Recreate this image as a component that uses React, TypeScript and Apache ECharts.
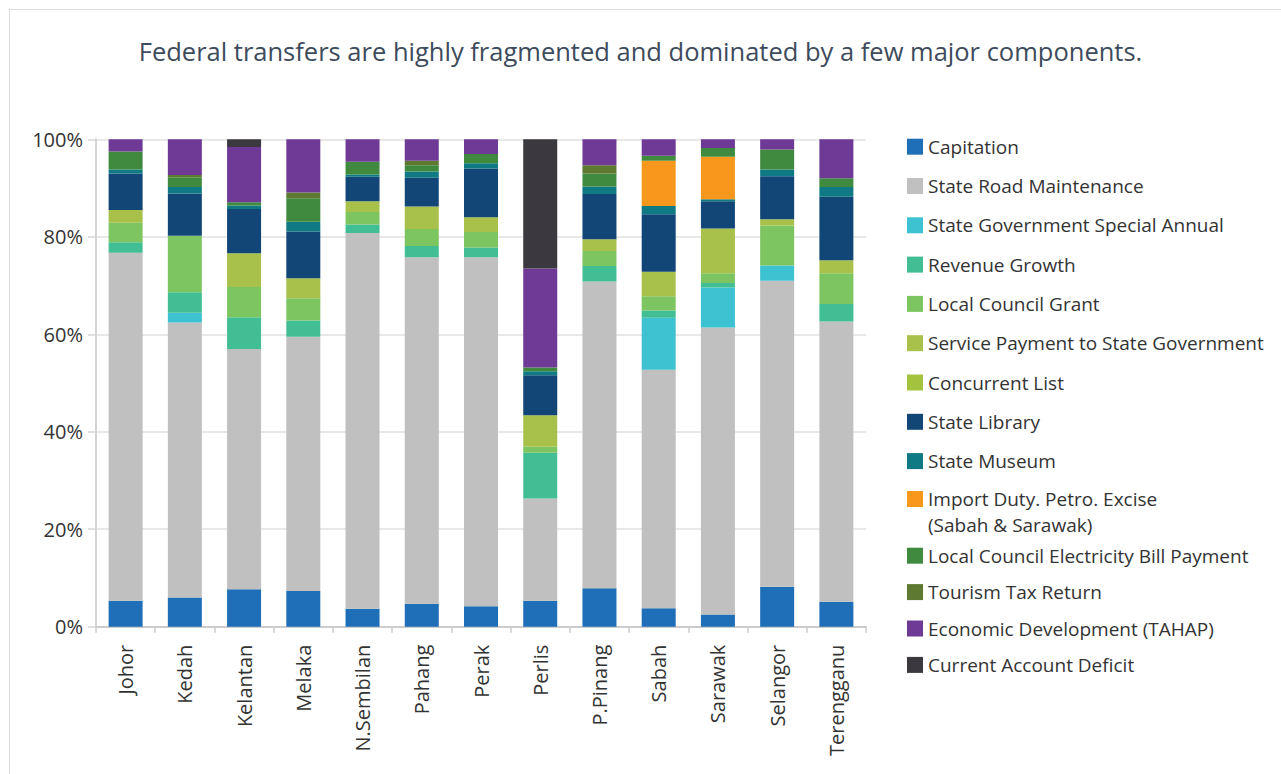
import React, { useEffect, useRef } from "react";
import * as echarts from "echarts";

// States shown along the category axis
const states = [
  "Johor", "Kedah", "Kelantan", "Melaka", "N.Sembilan", "Pahang", "Perak",
  "Perlis", "P.Pinang", "Sabah", "Sarawak", "Selangor", "Terengganu",
];

// Share of each transfer component in the state's total (%), one value per state
const capitation = [5.3, 6.0, 7.7, 7.3, 3.7, 4.7, 4.2, 5.3, 7.9, 3.8, 2.5, 8.2, 5.1];
const roadMaintenance = [71.4, 56.4, 49.3, 52.2, 77.1, 71.1, 71.6, 21.0, 62.9, 48.9, 58.9, 62.8, 57.5];
const specialAnnual = [0, 2.0, 0, 0, 0, 0, 0, 0, 0, 10.7, 8.2, 3.1, 0];
const revenueGrowth = [2.2, 4.2, 6.5, 3.3, 1.7, 2.3, 2.0, 9.4, 3.2, 1.5, 0.9, 0, 3.6];
const localCouncilGrant = [4.0, 11.6, 6.2, 4.6, 2.6, 3.5, 3.2, 1.2, 3.1, 2.9, 2.0, 8.2, 6.3];
const servicePayment = [2.6, 0, 6.9, 4.1, 2.2, 4.6, 3.0, 6.5, 2.4, 5.0, 9.2, 1.3, 2.7];
const concurrentList = [0, 0, 0, 0, 0, 0, 0, 0, 0, 0, 0, 0, 0];
const stateLibrary = [7.5, 8.7, 9.1, 9.6, 5.0, 5.9, 10.0, 8.2, 9.3, 11.8, 5.6, 8.8, 13.0];
const stateMuseum = [0.8, 1.3, 0.7, 2.0, 0.5, 1.3, 1.1, 0.8, 1.5, 1.7, 0.4, 1.4, 2.0];
const importDuty = [0, 0, 0, 0, 0, 0, 0, 0, 0, 9.3, 8.7, 0, 0];
const electricityBill = [3.7, 2.0, 0.7, 4.8, 2.6, 1.3, 1.9, 0.8, 2.7, 1.0, 1.8, 4.1, 1.8];
const tourismTax = [0, 0.5, 0, 1.2, 0, 0.9, 0, 0, 1.7, 0, 0, 0, 0];
const economicDevelopment = [2.5, 7.3, 11.3, 10.9, 4.6, 4.4, 3.0, 20.3, 5.3, 3.4, 1.8, 2.1, 8.0];
const currentAccountDeficit = [0, 0, 1.6, 0, 0, 0, 0, 26.5, 0, 0, 0, 0, 0];

const yTicks = [0, 20, 40, 60, 80, 100];

const IMPORT_DUTY = "Import Duty. Petro. Excise\n(Sabah & Sarawak)";

const components = [
  { name: "Capitation", color: "#1f6fb8", data: capitation },
  { name: "State Road Maintenance", color: "#c0c0c0", data: roadMaintenance },
  { name: "State Government Special Annual", color: "#3cc2d0", data: specialAnnual },
  { name: "Revenue Growth", color: "#41be93", data: revenueGrowth },
  { name: "Local Council Grant", color: "#7dc561", data: localCouncilGrant },
  { name: "Service Payment to State Government", color: "#a8c14a", data: servicePayment },
  { name: "Concurrent List", color: "#a3c33f", data: concurrentList },
  { name: "State Library", color: "#114676", data: stateLibrary },
  { name: "State Museum", color: "#0f7a83", data: stateMuseum },
  { name: IMPORT_DUTY, color: "#f7981d", data: importDuty },
  { name: "Local Council Electricity Bill Payment", color: "#3f8a3f", data: electricityBill },
  { name: "Tourism Tax Return", color: "#5d7a30", data: tourismTax },
  { name: "Economic Development (TAHAP)", color: "#6e3a96", data: economicDevelopment },
  { name: "Current Account Deficit", color: "#3b393f", data: currentAccountDeficit },
];

const FONT = "'Open Sans', 'Noto Sans', sans-serif";
const TEXT = "#333333";

// Two-line legend entry: swatch sits at the top of a taller icon box so it
// lines up with the first text line rather than the middle of the block.
const WRAP_LINE_HEIGHT = 26;
const WRAP_ITEM_HEIGHT = 16 + WRAP_LINE_HEIGHT;
const topSwatchIcon = `path://M0 0H16V16H0Z M0 ${WRAP_ITEM_HEIGHT}H16`;

export default function App() {
  const ref = useRef<HTMLDivElement | null>(null);

  useEffect(() => {
    if (!ref.current) return;
    const chart = echarts.init(ref.current, null, { renderer: "svg" });

    const legendText = { fontFamily: FONT, fontSize: 19, color: TEXT, lineHeight: 20 };
    const legendBase = {
      orient: "vertical" as const,
      left: 902,
      icon: "rect",
      itemWidth: 16,
      itemHeight: 16,
      selectedMode: false,
      textStyle: legendText,
    };

    chart.setOption({
      animation: false,
      title: {
        text: "Federal transfers are highly fragmented and dominated by a few major components.",
        left: "center",
        top: 33,
        textStyle: { fontFamily: FONT, fontSize: 25.5, fontWeight: "normal", color: "#3d4b5c" },
      },
      legend: [
        { ...legendBase, top: 131.7, itemGap: 19.3, data: components.slice(0, 9).map((c) => c.name) },
        {
          ...legendBase,
          top: 481,
          icon: topSwatchIcon,
          itemHeight: WRAP_ITEM_HEIGHT,
          data: [IMPORT_DUTY],
          textStyle: { ...legendText, lineHeight: WRAP_LINE_HEIGHT },
        },
        { ...legendBase, top: 540.7, itemGap: 16.4, data: components.slice(10).map((c) => c.name) },
      ],
      grid: { left: 96, top: 139.3, width: 770, bottom: 147.3, containLabel: false },
      xAxis: {
        type: "category",
        data: states,
        axisLine: { lineStyle: { color: "#cccccc", width: 2 } },
        axisTick: { show: true, length: 6, lineStyle: { color: "#cccccc", width: 1.5 } },
        axisLabel: { rotate: 90, margin: 18, fontFamily: FONT, fontSize: 20, color: TEXT },
      },
      yAxis: {
        type: "value",
        min: yTicks[0],
        max: yTicks[yTicks.length - 1],
        interval: yTicks[1] - yTicks[0],
        axisLine: { show: true, lineStyle: { color: "#d4d4d4", width: 2 } },
        axisTick: { show: true, length: 8, lineStyle: { color: "#d4d4d4", width: 1.5 } },
        axisLabel: { formatter: "{value}%", margin: 13, fontFamily: FONT, fontSize: 20, color: TEXT },
        splitLine: { lineStyle: { color: "#e8e8e8", width: 2 } },
      },
      series: components.map((c) => ({
        name: c.name,
        type: "bar",
        stack: "total",
        barWidth: 34,
        itemStyle: { color: c.color },
        data: c.data,
      })),
    });

    return () => chart.dispose();
  }, []);

  return (
    <div style={{ position: "fixed", left: 0, top: 0, width: 1281, height: 774, overflow: "hidden", background: "#fff" }}>
      <div
        style={{
          position: "absolute",
          left: 9,
          top: 9,
          width: 1400,
          height: 900,
          border: "1px solid #dcdcdc",
        }}
      />
      <div ref={ref} style={{ position: "absolute", left: 0, top: 0, width: 1281, height: 774 }} />
    </div>
  );
}
